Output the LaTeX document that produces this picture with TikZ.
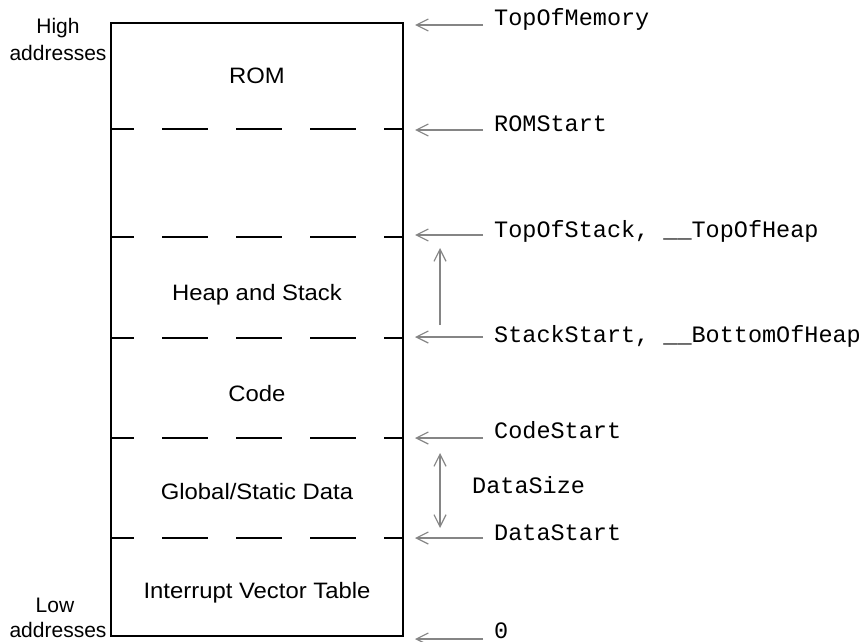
\documentclass[tikz,border=0pt]{standalone}
\usepackage{fontspec}
\setmainfont[FakeStretch=1.07]{Liberation Sans}
\newfontfamily\plainsans{Liberation Sans}
\newfontfamily\codefont{Liberation Mono}
\usetikzlibrary{arrows.meta}

\tikzset{
  memline/.style={line width=2.4pt, black},
  divider/.style={line width=2.4pt, black, dash pattern=on 46pt off 28pt, dash phase=23pt},
  ptr/.style={line width=1.4pt, draw=black!48, -{Straight Barb[length=12pt,width=12pt,line width=1.2pt]}},
  twoway/.style={line width=1.4pt, draw=black!48, {Straight Barb[length=12pt,width=12pt,line width=1.2pt]}-{Straight Barb[length=12pt,width=12pt,line width=1.2pt]}},
  region/.style={anchor=base, inner sep=0pt, font=\fontsize{22.3}{26}\selectfont},
  side/.style={anchor=base, inner sep=0pt, font=\plainsans\fontsize{21}{25}\selectfont},
  sym/.style={anchor=base west, inner sep=0pt, font=\codefont\fontsize{23.5}{26}\selectfont},
}

\begin{document}
\begin{tikzpicture}[x=1pt, y=-1pt]
  \useasboundingbox (0,0) rectangle (867,642);

  % memory block outline
  \coordinate (tl) at (111,23);
  \coordinate (br) at (403,636);
  \draw[memline] (tl) rectangle (br);

  % region boundaries
  \foreach \name/\yy in {romB/129, stackB/237, heapB/338, codeB/438, dataB/538}{
    \coordinate (\name W) at (111,\yy);
    \coordinate (\name E) at (403,\yy);
    \draw[divider] (\name W) -- (\name E);
  }

  % region names
  \node[region] (rom)   at (257,84)  {ROM};
  \node[region] (heap)  at (257,300) {Heap and Stack};
  \node[region] (code)  at (257,401) {Code};
  \node[region] (data)  at (257,499) {Global/Static Data};
  \node[region] (ivt)   at (257,598) {Interrupt Vector Table};

  % address direction
  \node[side] (high)  at (58,34)  {High};
  \node[side] (highA) at (58,60)  {addresses};
  \node[side] (low)   at (55,612) {Low};
  \node[side] (lowA)  at (58,637) {addresses};

  % symbol labels
  \node[sym] (sTop)   at (494,26)  {TopOfMemory};
  \node[sym] (sRom)   at (494,131) {ROMStart};
  \node[sym] (sStack) at (494,237) {TopOfStack, \_\_TopOfHeap};
  \node[sym] (sSS)    at (494,342) {StackStart, \_\_BottomOfHeap};
  \node[sym] (sCode)  at (494,438) {CodeStart};
  \node[sym] (sSize)  at (472,493) {DataSize};
  \node[sym] (sData)  at (494,540) {DataStart};
  \node[sym] (sZero)  at (494,638) {0};

  % pointers from symbols to addresses
  \foreach \n/\yy in {Top/25, Rom/130, Stack/235, SS/337, Code/438, Data/538, Zero/639}{
    \coordinate (from\n) at (483,\yy);
    \coordinate (to\n) at (415,\yy);
    \draw[ptr] (from\n) -- (to\n);
  }

  % stack growth and data extent
  \coordinate (growA) at (440,325);
  \coordinate (growB) at (440,248);
  \draw[ptr] (growA) -- (growB);
  \coordinate (sizeA) at (440,453);
  \coordinate (sizeB) at (440,528);
  \draw[twoway] (sizeA) -- (sizeB);
\end{tikzpicture}
\end{document}
